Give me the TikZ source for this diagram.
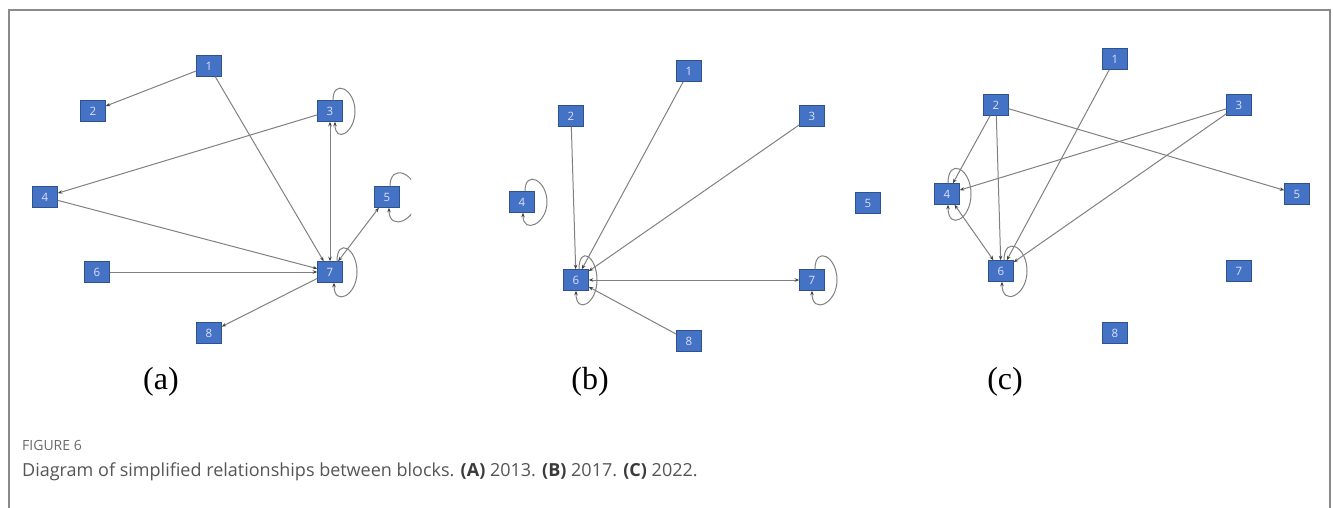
\documentclass[tikz,border=0pt]{standalone}
\usepackage{fontspec}
\setmainfont{Liberation Serif}
\newfontfamily\capfont{Open Sans}
\usetikzlibrary{arrows.meta}
\definecolor{boxblue}{HTML}{4472C4}
\definecolor{boxedge}{HTML}{2F528F}
\definecolor{edgegray}{HTML}{808080}
\definecolor{framegray}{HTML}{8A8A8A}
\definecolor{capgray}{HTML}{6A6A6A}
\definecolor{captext}{HTML}{555555}
\definecolor{capbold}{HTML}{3A3A3A}
\tikzset{
  blk/.style={draw=boxedge, line width=0.5pt, fill=boxblue, minimum width=25pt, minimum height=21pt, inner sep=0pt, text=white!88!blue, font=\capfont\fontsize{11.5}{11.5}\selectfont},
  edge/.style={draw=edgegray, line width=1pt, -{Stealth[length=4.5pt,width=3.5pt,color=black!75]}},
  bedge/.style={draw=edgegray, line width=1pt, {Stealth[length=4.5pt,width=3.5pt,color=black!75]}-{Stealth[length=4.5pt,width=3.5pt,color=black!75]}},
  sublabel/.style={font=\fontsize{32}{32}\selectfont, inner sep=0pt}
}
% self loop: node, start shift, end shift, right offset, handle
\newcommand{\sloop}[5]{\draw[edge] ([xshift=#2pt]#1.north) .. controls +(0,-#5) and +(0,-#5) .. ([xshift=#4pt]#1.center) .. controls +(0,#5) and +(0,#5) .. ([xshift=#3pt]#1.south);}
\begin{document}
\begin{tikzpicture}[x=1pt,y=-1pt]
\useasboundingbox (0,0) rectangle (1333,508);
% frame
\draw[framegray, line width=1.5pt] (9,508) -- (9,10) -- (1330,10) -- (1330,508);

% ---------------- (a) ----------------
\node[blk] (a1) at (209,66) {1};
\node[blk] (a2) at (93,111) {2};
\node[blk] (a3) at (330,111) {3};
\node[blk] (a4) at (45,197) {4};
\node[blk] (a5) at (387,197) {5};
\node[blk] (a6) at (97,272) {6};
\node[blk] (a7) at (330,272) {7};
\node[blk] (a8) at (209,333) {8};
\draw[edge] (a1) -- (a2);
\draw[edge] (a1) -- (a7);
\draw[edge] (a3) -- (a4);
\draw[edge] (a4) -- (a7);
\draw[bedge] (a3) -- (a7);
\draw[bedge] (a5) -- (a7);
\draw[edge] (a6) -- (a7);
\draw[edge] (a7) -- (a8);
\sloop{a3}{3}{5}{25}{22}
\sloop{a7}{7}{4}{27}{24}
\begin{scope}
\clip (0,0) rectangle (411,508);
\sloop{a5}{3}{2}{30}{24}
\end{scope}

% ---------------- (b) ----------------
\node[blk] (b1) at (689,71) {1};
\node[blk] (b2) at (571,116) {2};
\node[blk] (b3) at (812,116) {3};
\node[blk] (b4) at (522,202) {4};
\node[blk] (b5) at (868,203) {5};
\node[blk] (b6) at (576,280) {6};
\node[blk] (b7) at (812,280) {7};
\node[blk] (b8) at (689,341) {8};
\draw[edge] (b2) -- (b6);
\draw[edge] (b1) -- (b6);
\draw[edge] (b3) -- (b6);
\draw[bedge] (b6) -- (b7);
\draw[edge] (b8) -- (b6);
\sloop{b4}{3}{1}{25}{22}
\sloop{b6}{3}{0}{21}{24}
\sloop{b7}{3}{0}{25}{24}

% ---------------- (c) ----------------
\node[blk] (c1) at (1115,59) {1};
\node[blk] (c2) at (996,105) {2};
\node[blk] (c3) at (1239,105) {3};
\node[blk] (c4) at (947,194) {4};
\node[blk] (c5) at (1297,194) {5};
\node[blk] (c6) at (1001,271) {6};
\node[blk] (c7) at (1239,271) {7};
\node[blk] (c8) at (1115,333) {8};
\draw[edge] (c2) -- (c4);
\draw[edge] (c2) -- (c6);
\draw[edge] (c2) -- (c5);
\draw[edge] (c3) -- (c4);
\draw[edge] (c3) -- (c6);
\draw[edge] (c1) -- (c6);
\draw[bedge] (c4) -- (c6);
\sloop{c4}{1}{1}{24}{26}
\sloop{c6}{3}{1}{26}{25}

% ---------------- sub labels ----------------
\node[sublabel] (la) at (161,382) {(a)};
\node[sublabel] (lb) at (590,382) {(b)};
\node[sublabel] (lc) at (1005,382) {(c)};

% ---------------- caption ----------------
\node[anchor=base west, inner sep=0pt, text=capgray, font=\capfont\fontsize{14}{16}\selectfont] (fig) at (22,450) {FIGURE 6};
\node[anchor=base west, inner sep=0pt, text=captext, font=\capfont\fontsize{18}{20}\selectfont] (cap) at (22,476) {Diagram of simplified relationships between blocks. {\color{capbold}\bfseries (A)} 2013. {\color{capbold}\bfseries (B)} 2017. {\color{capbold}\bfseries (C)} 2022.};
\end{tikzpicture}
\end{document}
